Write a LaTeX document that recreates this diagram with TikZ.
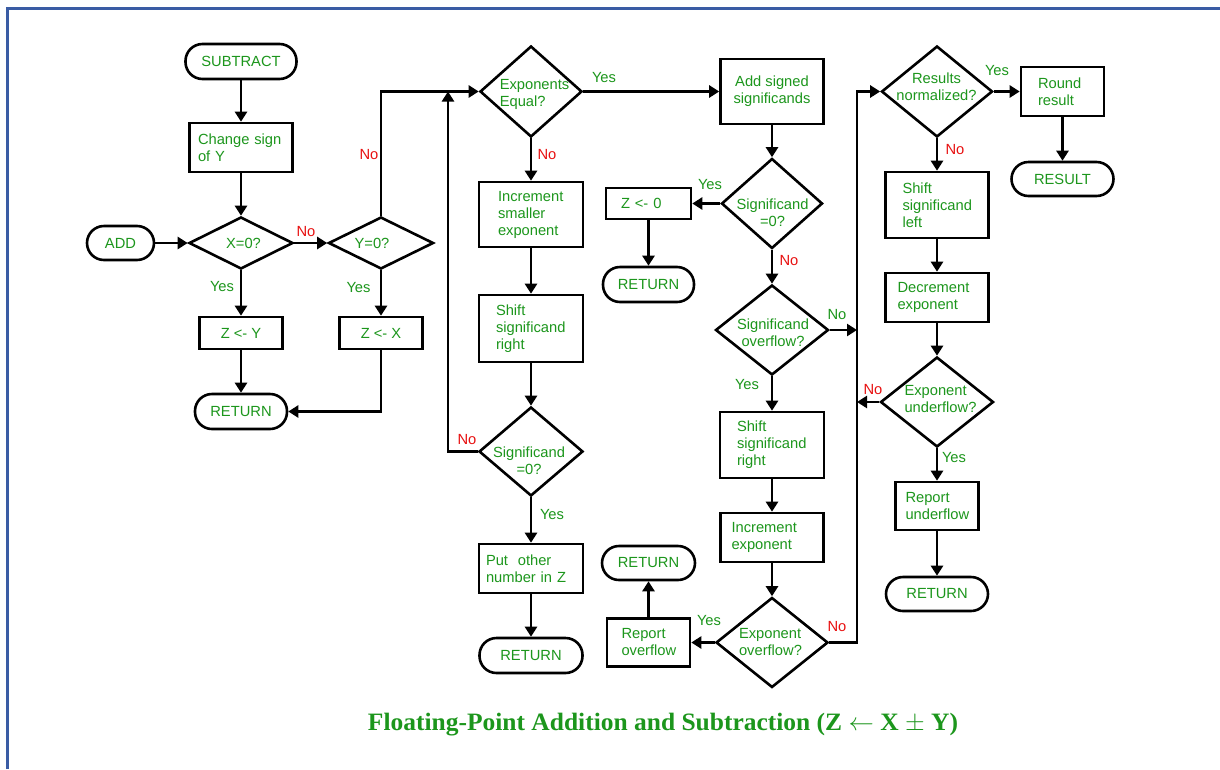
\documentclass[tikz,border=0pt]{standalone}
\usepackage{fontspec}
\setmainfont{Liberation Sans}
\newfontfamily\capfont{Liberation Serif}
\usetikzlibrary{arrows.meta,shapes.geometric}
\definecolor{flowgreen}{RGB}{28,150,28}
\definecolor{flowred}{RGB}{232,16,16}
\definecolor{frameblue}{RGB}{58,92,164}

\begin{document}
\begin{tikzpicture}[x=1pt,y=-1pt,
  every node/.style={font=\fontsize{14.7}{17}\selectfont, text=flowgreen},
  proc/.style={draw=black, line width=2.6pt, rectangle, inner sep=0pt, align=center},
  term/.style={draw=black, line width=2.6pt, rectangle, rounded corners=17pt, inner sep=0pt},
  dec/.style={draw=black, line width=2.6pt, diamond, inner sep=0pt},
  dtext/.style={inner sep=0pt},
  arr/.style={line width=2.6pt, -{Triangle[length=10pt,width=12pt]}},
  yes/.style={text=flowgreen, inner sep=0pt},
  no/.style={text=flowred, inner sep=0pt},
]
% canvas and frame
\useasboundingbox (0,0) rectangle (1220,769);
\fill[white] (0,0) rectangle (1220,769);
\draw[frameblue, line width=2.7pt] (7.3,769) -- (7.3,8.7) -- (1220,8.7);

% ---------- entry: add / subtract ----------
\node[term, minimum width=111pt, minimum height=35pt] (sub) at (241,61.5) {SUBTRACT};
\node[proc, minimum height=49pt, inner xsep=8.5pt, text width=86pt, align=left] (chg) at (241,147.5) {Change sign\\of Y};
\node[dec, minimum width=104pt, minimum height=52pt] (x0) at (241,243) {};
\node[dtext] (x0t) at (243.5,243) {X=0?};
\node[term, minimum width=67pt, minimum height=34pt] (add) at (120.5,243) {ADD};
\node[dec, minimum width=105pt, minimum height=52pt] (y0) at (381,243) {};
\node[dtext] (y0t) at (372,243) {Y=0?};
\node[proc, minimum width=83pt, minimum height=32pt] (zy) at (241,333) {Z <- Y};
\node[proc, minimum width=83pt, minimum height=32pt] (zx) at (381,333) {Z <- X};
\node[term, minimum width=92pt, minimum height=35pt] (ret1) at (241,411.5) {RETURN};

% ---------- exponent alignment ----------
\node[dec, minimum width=102pt, minimum height=91pt] (expeq) at (531,91.5) {};
\node[dtext, align=left] (expeqt) at (534.5,94) {Exponents\\Equal?};
\node[proc, minimum height=65pt, inner xsep=19pt, text width=66pt, align=left] (incs) at (531,214.5) {Increment\\smaller\\exponent};
\node[proc, minimum height=67pt, inner xsep=17pt, text width=70pt, align=left] (shr1) at (531,328.5) {Shift\\significand\\right};
\node[dec, minimum width=104pt, minimum height=89pt] (sig0a) at (531,451.5) {};
\node[dtext, align=center] (sig0at) at (529,461) {Significand\\=0?};
\node[proc, minimum height=49pt, inner xsep=7pt, text width=90pt, align=left] (put) at (531,568.5) {Put\ \ other\\number in Z};
\node[term, minimum width=103pt, minimum height=35pt] (ret2) at (531,655.5) {RETURN};

% ---------- significand addition ----------
\node[proc, minimum width=103pt, minimum height=65pt] (addsig) at (772,91.5) {Add signed\\significands};
\node[dec, minimum width=101pt, minimum height=90pt] (sig0b) at (772,203.5) {};
\node[dtext, align=center] (sig0bt) at (772.5,212.5) {Significand\\=0?};
\node[proc, minimum height=31pt, inner xsep=15pt, text width=55pt, align=left] (z0) at (648.5,203.5) {Z <- 0};
\node[term, minimum width=91pt, minimum height=35pt] (ret3) at (648.5,284.5) {RETURN};
\node[dec, minimum width=113pt, minimum height=90pt] (sigovf) at (772,330) {};
\node[dtext, align=center] (sigovft) at (773,333) {Significand\\overflow?};
\node[proc, minimum height=66pt, inner xsep=17pt, text width=70pt, align=left] (shr2) at (772,445) {Shift\\significand\\right};
\node[proc, minimum height=49pt, inner xsep=11pt, text width=81pt, align=left] (incexp) at (772,537.5) {Increment\\exponent};
\node[dec, minimum width=112pt, minimum height=90pt] (expovf) at (772,642.5) {};
\node[dtext, align=left] (expovft) at (770.5,642.5) {Exponent\\overflow?};
\node[proc, minimum height=48pt, inner xsep=14.5pt, text width=54pt, align=left] (repovf) at (648.5,642.5) {Report\\overflow};
\node[term, minimum width=93pt, minimum height=34pt] (ret4) at (648.5,563) {RETURN};

% ---------- normalization ----------
\node[dec, minimum width=111pt, minimum height=91pt] (resnorm) at (937,91.5) {};
\node[dtext, align=center] (resnormt) at (936.5,87) {Results\\normalized?};
\node[proc, minimum height=49pt, inner xsep=17pt, text width=49pt, align=left] (round) at (1062.5,91.5) {Round\\result};
\node[term, minimum width=102pt, minimum height=34pt] (result) at (1062.5,179) {RESULT};
\node[proc, minimum height=66pt, inner xsep=17pt, text width=69pt, align=left] (shl) at (937,205) {Shift\\significand\\left};
\node[proc, minimum height=49pt, inner xsep=12pt, text width=79pt, align=left] (decexp) at (937,297.5) {Decrement\\exponent};
\node[dec, minimum width=113pt, minimum height=90pt] (expund) at (937,402) {};
\node[dtext, align=left] (expundt) at (940.5,399) {Exponent\\underflow?};
\node[proc, minimum height=48pt, inner xsep=10pt, text width=63pt, align=left] (repund) at (937,506) {Report\\underflow};
\node[term, minimum width=102pt, minimum height=34pt] (ret5) at (937,594) {RETURN};

% junction points of the two loop-back lines
\coordinate (loopTop) at (448,91.5);
\coordinate (busTop) at (857,91.5);

% ---------- connectors ----------
\draw[arr] (sub) -- (chg);
\draw[arr] (chg) -- (x0);
\draw[arr] (add) -- (x0);
\draw[arr] (x0) -- (y0);
\draw[arr] (x0) -- (zy);
\draw[arr] (y0) -- (zx);
\draw[arr] (zy) -- (ret1);
\draw[arr] (zx) |- (ret1);
\draw[arr] (y0) |- (expeq);

\draw[arr] (expeq) -- (addsig);
\draw[arr] (expeq) -- (incs);
\draw[arr] (incs) -- (shr1);
\draw[arr] (shr1) -- (sig0a);
\draw[arr] (sig0a) -| (loopTop);
\draw[arr] (sig0a) -- (put);
\draw[arr] (put) -- (ret2);

\draw[arr] (addsig) -- (sig0b);
\draw[arr] (sig0b) -- (z0);
\draw[arr] (z0) -- (ret3);
\draw[arr] (sig0b) -- (sigovf);
\draw[arr] (sigovf) -- (sigovf -| busTop);
\draw[arr] (sigovf) -- (shr2);
\draw[arr] (shr2) -- (incexp);
\draw[arr] (incexp) -- (expovf);
\draw[arr] (expovf) -- (repovf);
\draw[arr] (repovf) -- (ret4);
\draw[arr] (expovf) -| (busTop) -- (resnorm);

\draw[arr] (resnorm) -- (round);
\draw[arr] (round) -- (result);
\draw[arr] (resnorm) -- (shl);
\draw[arr] (shl) -- (decexp);
\draw[arr] (decexp) -- (expund);
\draw[arr] (expund) -- (expund -| busTop);
\draw[arr] (expund) -- (repund);
\draw[arr] (repund) -- (ret5);

% ---------- branch labels ----------
\node[no]  (lb1)  at (306,232)   {No};
\node[yes] (lb2)  at (222,287)   {Yes};
\node[no]  (lb3)  at (369,155)   {No};
\node[yes] (lb4)  at (358.5,288) {Yes};
\node[yes] (lb5)  at (604,78)    {Yes};
\node[no]  (lb6)  at (547,155)   {No};
\node[no]  (lb7)  at (467,440)   {No};
\node[yes] (lb8)  at (552,515)   {Yes};
\node[yes] (lb9)  at (710,185)   {Yes};
\node[no]  (lb10) at (789,261)   {No};
\node[yes] (lb11) at (837,315)   {No};
\node[yes] (lb12) at (747,385)   {Yes};
\node[yes] (lb13) at (709,621)   {Yes};
\node[no]  (lb14) at (837,627)   {No};
\node[yes] (lb15) at (997,71)    {Yes};
\node[no]  (lb16) at (955,150)   {No};
\node[no]  (lb17) at (873,390)   {No};
\node[yes] (lb18) at (954,458)   {Yes};

% ---------- caption ----------
\node[font=\capfont\bfseries\fontsize{25}{29}\selectfont, text=flowgreen, inner sep=0pt] (cap) at (663,725)
  {\resizebox{590pt}{\height}{Floating-Point Addition and Subtraction (Z $\leftarrow$ X $\pm$ Y)}};
\end{tikzpicture}
\end{document}
